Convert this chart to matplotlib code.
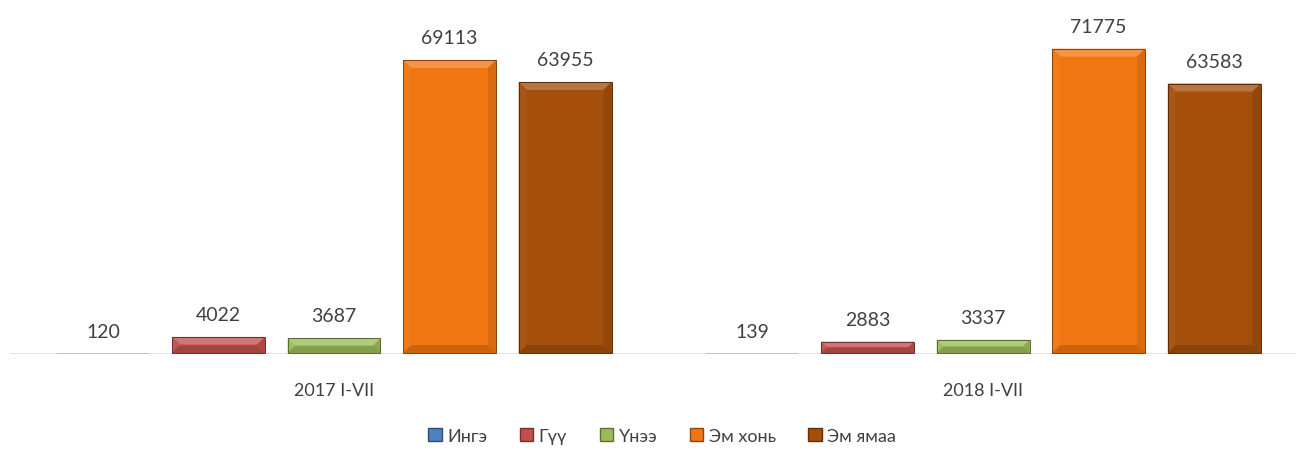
import numpy as np
import matplotlib
matplotlib.use("Agg")
import matplotlib.pyplot as plt
from matplotlib.patches import Polygon, Patch
from matplotlib.transforms import IdentityTransform
from matplotlib.colors import to_rgb

plt.rcParams['font.family'] = ['Lato', 'DejaVu Sans']

categories = ["2017 I-VII", "2018 I-VII"]
series_names = ["Ингэ", "Гүү", "Үнээ", "Эм хонь", "Эм ямаа"]
ingi = [120, 139]
guu = [4022, 2883]
unee = [3687, 3337]
em_khon = [69113, 71775]
em_yamaa = [63955, 63583]
colors = ["#4F81BD", "#C0504D", "#9BBB59", "#F07612", "#A34F0B"]


def shade(c, f):
    r = np.array(to_rgb(c))
    if f > 0:
        return tuple(r + (1 - r) * f)
    return tuple(r * (1 + f))


fig = plt.figure(figsize=(12.96, 4.52), dpi=100)
left = 9.5 / 1296
ax = fig.add_axes([left, 97 / 452, 1 - left, 355 / 452])

values = [ingi, guu, unee, em_khon, em_yamaa]
x = np.arange(len(categories))
width = 0.143
step = 0.178
offsets = (np.arange(len(series_names)) - 2) * step

all_bars = []
for name, vals, col, off in zip(series_names, values, colors, offsets):
    bars = ax.bar(x + off, vals, width, color=col, linewidth=0, label=name, zorder=2)
    all_bars.append((bars, col))
    for b, v in zip(bars, vals):
        ax.annotate(f"{v}", (b.get_x() + b.get_width() / 2, v),
                    xytext=(0, 10), textcoords="offset points", ha="center",
                    va="bottom", fontsize=14, color="#404040")

ax.set_xlim(-0.5, 1.482)
ax.set_ylim(0, 355 * 69113 / 294)
ax.axhline(0, color="#D9D9D9", linewidth=1.8, zorder=2.5)
for s in ax.spines.values():
    s.set_visible(False)
ax.set_yticks([])
ax.set_xticks(x)
ax.set_xticklabels(categories, fontsize=13, color="#404040")
ax.tick_params(axis="x", length=0, pad=20)

# bevel effect on each bar
fig.canvas.draw()
for bars, col in all_bars:
    for b in bars:
        (x0, y0), (x1, y1) = ax.transData.transform([(b.get_x(), 0),
                                                      (b.get_x() + b.get_width(), b.get_height())])
        h = y1 - y0
        if h < 2:
            continue
        y0 += 1
        bv = min(8, (y1 - y0) / 2 - 0.5)
        top = Polygon([(x0, y1), (x1, y1), (x1 - bv, y1 - bv), (x0 + bv, y1 - bv)],
                      closed=True, transform=IdentityTransform(), color=shade(col, 0.22),
                      lw=0, zorder=3)
        lft = Polygon([(x0, y1), (x0 + bv, y1 - bv), (x0 + bv, y0 + bv), (x0, y0)],
                      closed=True, transform=IdentityTransform(), color=shade(col, 0.04),
                      lw=0, zorder=3)
        rgt = Polygon([(x1, y1), (x1 - bv, y1 - bv), (x1 - bv, y0 + bv), (x1, y0)],
                      closed=True, transform=IdentityTransform(), color=shade(col, -0.1),
                      lw=0, zorder=3)
        bot = Polygon([(x0, y0), (x0 + bv, y0 + bv), (x1 - bv, y0 + bv), (x1, y0)],
                      closed=True, transform=IdentityTransform(), color=shade(col, -0.15),
                      lw=0, zorder=3)
        edge = Polygon([(x0, y0), (x0, y1), (x1, y1), (x1, y0)], closed=True,
                       transform=IdentityTransform(), fill=False,
                       edgecolor=shade(col, -0.45), lw=0.7, zorder=4)
        for p in (top, lft, rgt, bot, edge):
            fig.add_artist(p)

handles = [Patch(facecolor=c, edgecolor=shade(c, -0.4), label=n)
           for n, c in zip(series_names, colors)]
fig.legend(handles=handles, loc="center", bbox_to_anchor=(0.511, 0.033), ncol=5,
           frameon=False, fontsize=13, handlelength=0.75, handleheight=0.75,
           handletextpad=0.3, columnspacing=1.8, labelcolor="#404040")

fig.savefig("out.png", dpi=100)
